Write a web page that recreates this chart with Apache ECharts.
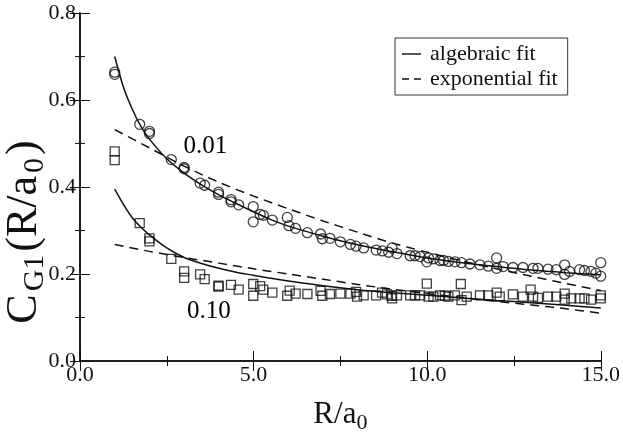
<!DOCTYPE html>
<html><head><meta charset="utf-8">
<script src="https://cdn.jsdelivr.net/npm/echarts@6/dist/echarts.min.js"></script>
<style>html,body{margin:0;padding:0;background:#fff}#c{width:623px;height:439px}</style>
</head><body><div id="c"></div>
<script>
// Data
const circles001 = [[1.0,0.664],[1.0,0.659],[1.72,0.544],[2.0,0.528],[2.0,0.523],[2.63,0.463],[3.0,0.445],[3.0,0.442],[3.46,0.409],[3.59,0.404],[3.99,0.388],[3.99,0.383],[4.35,0.371],[4.35,0.366],[4.57,0.359],[4.99,0.355],[4.99,0.32],[5.19,0.337],[5.28,0.335],[5.54,0.324],[5.97,0.33],[6.02,0.311],[6.21,0.305],[6.55,0.295],[6.93,0.292],[6.98,0.281],[7.2,0.282],[7.5,0.274],[7.79,0.268],[7.95,0.264],[8.17,0.26],[8.53,0.255],[8.71,0.253],[8.89,0.25],[8.99,0.26],[9.13,0.247],[9.51,0.242],[9.65,0.242],[9.8,0.24],[9.99,0.228],[10.04,0.237],[10.18,0.235],[10.37,0.231],[10.47,0.231],[10.61,0.229],[10.8,0.228],[10.99,0.226],[11.23,0.223],[11.52,0.221],[11.76,0.218],[12.0,0.237],[12.0,0.213],[12.19,0.217],[12.47,0.215],[12.76,0.215],[13.05,0.213],[13.19,0.213],[13.48,0.211],[13.72,0.21],[13.96,0.221],[13.96,0.199],[14.1,0.206],[14.39,0.21],[14.53,0.208],[14.72,0.206],[14.86,0.202],[15.0,0.226],[15.0,0.195]];
const squares010 = [[1.0,0.482],[1.0,0.462],[1.72,0.317],[2.0,0.282],[2.0,0.275],[2.63,0.235],[3.0,0.206],[3.0,0.191],[3.46,0.199],[3.59,0.188],[3.99,0.173],[3.99,0.171],[4.35,0.175],[4.57,0.164],[4.99,0.177],[4.99,0.15],[5.19,0.172],[5.28,0.164],[5.54,0.157],[5.97,0.15],[6.04,0.162],[6.21,0.155],[6.55,0.154],[6.93,0.161],[6.98,0.15],[7.2,0.154],[7.5,0.155],[7.79,0.155],[7.95,0.159],[7.98,0.148],[8.17,0.151],[8.53,0.151],[8.7,0.157],[8.84,0.153],[8.97,0.15],[8.99,0.144],[9.13,0.151],[9.51,0.151],[9.65,0.151],[9.8,0.151],[9.99,0.178],[10.04,0.148],[10.18,0.148],[10.37,0.151],[10.51,0.15],[10.61,0.148],[10.8,0.151],[10.97,0.177],[10.99,0.14],[11.14,0.148],[11.52,0.151],[11.76,0.151],[12.0,0.157],[12.09,0.148],[12.47,0.153],[12.76,0.148],[12.98,0.164],[13.05,0.148],[13.19,0.145],[13.48,0.148],[13.72,0.148],[13.96,0.155],[13.96,0.141],[14.15,0.144],[14.39,0.144],[14.53,0.144],[14.72,0.141],[15.0,0.144],[15.0,0.151]];

const algX = [1,1.25,1.5,1.75,2,2.5,3,3.5,4,4.5,5,5.5,6,7,8,9,10,11,12,13,14,15];
const alg001 = [0.70,0.63,0.58,0.54,0.51,0.465,0.432,0.405,0.382,0.362,0.343,0.325,0.31,0.287,0.267,0.251,0.237,0.226,0.217,0.209,0.203,0.198];
const alg010 = [0.395,0.36,0.33,0.308,0.29,0.26,0.238,0.224,0.213,0.204,0.197,0.19,0.184,0.173,0.164,0.157,0.151,0.145,0.139,0.134,0.128,0.122];
const expX = [1,2,3,4,5,6,7,8,9,10,11,12,13,14,15];
const exp001 = [0.532,0.49,0.448,0.411,0.379,0.35,0.322,0.296,0.271,0.25,0.23,0.212,0.195,0.178,0.162];
const exp010 = [0.268,0.252,0.238,0.225,0.212,0.2,0.188,0.176,0.165,0.155,0.146,0.137,0.129,0.12,0.11];

const curveLabels = [{text:'0.01', x:3.61, y:0.494},{text:'0.10', x:3.71, y:0.114}];
const xTicks = ['0.0','5.0','10.0','15.0'];
const yTicks = ['0.0','0.2','0.4','0.6','0.8'];

const FONT = 'Liberation Serif';
const INK = '#111';
const zip = (xs, ys) => xs.map((x,i)=>[x, ys[i]]);

const chart = echarts.init(document.getElementById('c'), null, {renderer:'canvas'});
const axisCommon = {
  axisLine:{show:true, lineStyle:{color:INK, width:1.5}},
  axisTick:{show:true, inside:true, length:10, lineStyle:{color:INK, width:1}},
  minorTick:{show:true, splitNumber:2, length:5, lineStyle:{color:INK, width:1}},
  splitLine:{show:false}
};
const lineSeries = (name, data, dashed) => ({
  type:'line', name, data, smooth:0.3, symbol:'none', silent:true,
  lineStyle:{color:INK, width:1.5, type: dashed ? [9,6] : 'solid'},
  itemStyle:{color:INK}
});
const yTitle = {
  type:'text', x:24, y:232, rotation:Math.PI/2, silent:true,
  style:{
    text:'{a|C}{s|G1}{a|(R/a}{s|0}{a|)}',
    align:'center', verticalAlign:'middle',
    rich:{a:{fontFamily:FONT, fontSize:44, fill:INK, padding:[0,2,0,2]}, s:{fontFamily:FONT, fontSize:30, fill:INK, padding:[23,1,0,1]}}
  }
};
chart.setOption({
  animation:false,
  backgroundColor:'#fff',
  grid:{left:80, right:20, top:13, bottom:59},
  legend:{
    data:[
      {name:'algebraic fit', icon:'path://M0,0H20V1.5H0Z', itemStyle:{color:INK}},
      {name:'exponential fit', icon:'path://M0,0H7V1.5H0Z M12,0H19V1.5H12Z', itemStyle:{color:INK}}
    ],
    orient:'vertical', left:395, top:38,
    padding:[5,10,5,7], itemGap:3, itemWidth:19, itemHeight:1.5,
    borderColor:'#333', borderWidth:1,
    textStyle:{fontFamily:FONT, fontSize:22, color:INK, padding:[0,0,0,4]},
    selectedMode:false
  },
  xAxis:[
    Object.assign({type:'value', min:0, max:15, interval:5, position:'bottom',
      axisLabel:{fontFamily:FONT, fontSize:22, color:INK, margin:3, formatter:(v)=>xTicks[Math.round(v/5)]},
      name:'{a|R/a}{s|0}', nameLocation:'middle', nameGap:34,
      nameTextStyle:{rich:{a:{fontFamily:FONT, fontSize:31, color:INK}, s:{fontFamily:FONT, fontSize:22, color:INK, padding:[17,0,0,0]}}}
    }, axisCommon),
    Object.assign({type:'value', min:0, max:15, interval:5, position:'top', axisLabel:{show:false}}, axisCommon)
  ],
  yAxis:[
    Object.assign({type:'value', min:0, max:0.8, interval:0.2, position:'left',
      axisLabel:{fontFamily:FONT, fontSize:22, color:INK, margin:4, formatter:(v)=>yTicks[Math.round(v/0.2)]}
    }, axisCommon),
    Object.assign({type:'value', min:0, max:0.8, interval:0.2, position:'right', axisLabel:{show:false}}, axisCommon)
  ],
  graphic:[yTitle],
  series:[
    lineSeries('algebraic fit', zip(algX, alg001), false),
    lineSeries('algebraic fit', zip(algX, alg010), false),
    lineSeries('exponential fit', zip(expX, exp001), true),
    lineSeries('exponential fit', zip(expX, exp010), true),
    {type:'scatter', name:'0.01 data', data:circles001, symbol:'circle', symbolSize:10,
      itemStyle:{color:'rgba(0,0,0,0)', borderColor:INK, borderWidth:1.3}, silent:true},
    {type:'scatter', name:'0.10 data', data:squares010, symbol:'rect', symbolSize:9,
      itemStyle:{color:'rgba(0,0,0,0)', borderColor:INK, borderWidth:1.3}, silent:true}
  ]
});
// curve annotations placed through the chart's own coordinate conversion
const labelEls = curveLabels.map(d => {
  const p = chart.convertToPixel({xAxisIndex:0, yAxisIndex:0}, [d.x, d.y]);
  return {type:'text', x:p[0], y:p[1], silent:true,
    style:{text:d.text, align:'center', verticalAlign:'middle', fontFamily:FONT, fontSize:25, fill:'#000'}};
});
chart.setOption({graphic:[yTitle].concat(labelEls)});
</script></body></html>
